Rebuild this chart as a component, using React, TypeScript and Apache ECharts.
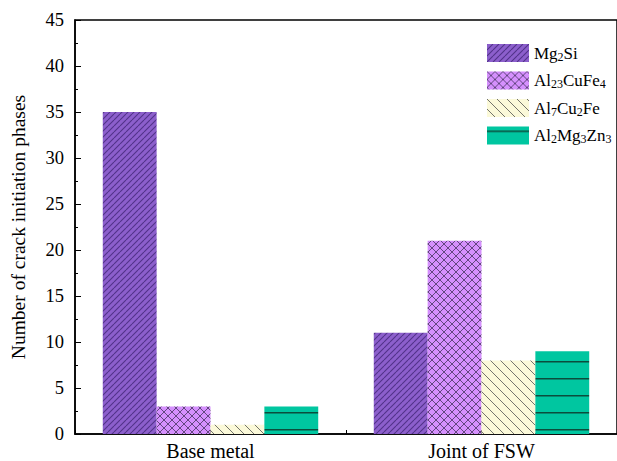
import React, { useEffect, useRef } from "react";
import * as echarts from "echarts";

const categories = ["Base metal", "Joint of FSW"];
const seriesNames = ["Mg2Si", "Al23CuFe4", "Al7Cu2Fe", "Al2Mg3Zn3"];
const legendLabels = [
  "Mg{s|2}Si",
  "Al{s|23}CuFe{s|4}",
  "Al{s|7}Cu{s|2}Fe",
  "Al{s|2}Mg{s|3}Zn{s|3}",
];
const mg2si = [35, 11];
const al23cufe4 = [3, 21];
const al7cu2fe = [1, 8];
const al2mg3zn3 = [3, 9];
const yTicks = [0, 45, 5];

function makePattern(kind: string): HTMLCanvasElement {
  const c = document.createElement("canvas");
  let s = 6;
  if (kind === "slash") s = 6;
  if (kind === "cross") s = 8;
  if (kind === "back") s = 10;
  if (kind === "horiz") s = 17;
  c.width = s;
  c.height = s;
  const ctx = c.getContext("2d")!;
  const drawDiag = (dir: number) => {
    ctx.beginPath();
    if (dir > 0) {
      for (const o of [-s, 0, s]) {
        ctx.moveTo(o, s);
        ctx.lineTo(o + s, 0);
      }
    } else {
      for (const o of [-s, 0, s]) {
        ctx.moveTo(o, 0);
        ctx.lineTo(o + s, s);
      }
    }
    ctx.stroke();
  };
  if (kind === "slash") {
    ctx.fillStyle = "#8c5fcc";
    ctx.fillRect(0, 0, s, s);
    ctx.strokeStyle = "#52338a";
    ctx.lineWidth = 1.1;
    drawDiag(1);
  } else if (kind === "cross") {
    ctx.fillStyle = "#d590fd";
    ctx.fillRect(0, 0, s, s);
    ctx.strokeStyle = "#634680";
    ctx.lineWidth = 1;
    drawDiag(1);
    drawDiag(-1);
  } else if (kind === "back") {
    ctx.fillStyle = "#fbf9d9";
    ctx.fillRect(0, 0, s, s);
    ctx.strokeStyle = "#74746c";
    ctx.lineWidth = 1;
    drawDiag(-1);
  } else {
    ctx.fillStyle = "#00c6a0";
    ctx.fillRect(0, 0, s, s);
    ctx.fillStyle = "#0b4d3c";
    ctx.fillRect(0, 4, s, 1.5);
  }
  return c;
}

export default function App() {
  const ref = useRef<HTMLDivElement>(null);
  useEffect(() => {
    document.body.style.margin = "0";
    const chart = echarts.init(ref.current!, undefined, { renderer: "svg" });
    const font = "'Liberation Serif', 'Times New Roman', serif";
    const kinds = ["slash", "cross", "back", "horiz"];
    const dataSets = [mg2si, al23cufe4, al7cu2fe, al2mg3zn3];
    const series = seriesNames.map((name, i) => ({
      name,
      type: "bar",
      data: dataSets[i],
      barGap: "0%",
      barCategoryGap: "20.5%",
      itemStyle: {
        color: { image: makePattern(kinds[i]), repeat: "repeat" } as any,
      },
    }));
    const option: any = {
      animation: false,
      backgroundColor: "#ffffff",
      grid: {
        left: 67,
        top: 20,
        bottom: 26,
        width: 562,
        show: true,
        borderColor: "#000",
        borderWidth: 1.5,
      },
      legend: {
        orient: "vertical",
        left: 482,
        top: 39,
        itemWidth: 42,
        itemHeight: 18,
        itemGap: 9,
        icon: "rect",
        data: seriesNames,
        formatter: (n: string) => legendLabels[seriesNames.indexOf(n)],
        textStyle: {
          fontFamily: font,
          fontSize: 17,
          color: "#000",
          rich: {
            s: { fontSize: 12, fontFamily: font, color: "#000", padding: [7, 0, 0, 0] },
          },
        },
      },
      xAxis: [
        {
          type: "category",
          data: categories,
          axisLine: { lineStyle: { color: "#000", width: 1.5 } },
          axisTick: { show: true, inside: true, length: 4, lineStyle: { color: "#000" } },
          axisLabel: { fontFamily: font, fontSize: 20, color: "#000", margin: 7 },
        },
        {
          type: "category",
          data: categories,
          position: "bottom",
          axisLine: { show: false },
          axisTick: { show: true, inside: true, alignWithLabel: true, length: 4, lineStyle: { color: "#000" } },
          axisLabel: { show: false },
        },
      ],
      yAxis: {
        type: "value",
        min: yTicks[0],
        max: yTicks[1],
        interval: yTicks[2],
        name: "Number of crack initiation phases",
        nameLocation: "middle",
        nameGap: 47,
        nameTextStyle: { fontFamily: font, fontSize: 19.5, color: "#000" },
        axisLine: { show: true, lineStyle: { color: "#000", width: 1.5 } },
        axisTick: { show: true, inside: true, length: 6, lineStyle: { color: "#000" } },
        minorTick: { show: true, splitNumber: 2, length: 3, lineStyle: { color: "#000" } },
        splitLine: { show: false },
        axisLabel: { fontFamily: font, fontSize: 18.5, color: "#000", margin: 11 },
      },
      series,
    };
    chart.setOption(option);
    return () => chart.dispose();
  }, []);
  return <div ref={ref} style={{ width: 617, height: 461 }} />;
}
